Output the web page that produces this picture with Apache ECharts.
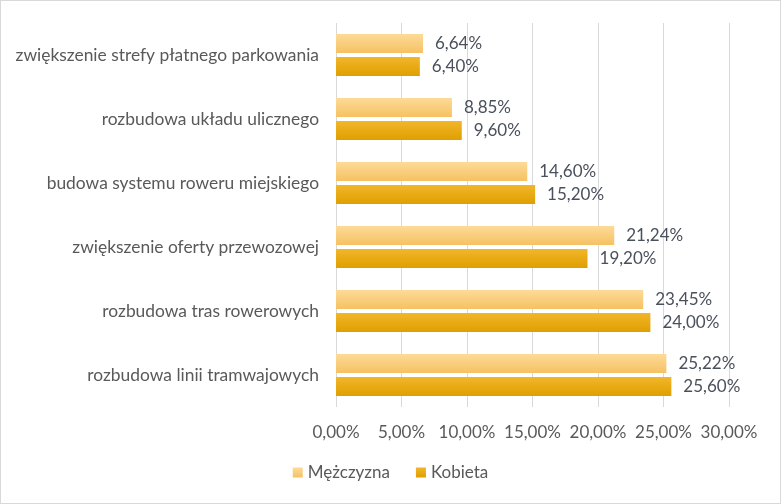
<!DOCTYPE html>
<html>
<head>
<meta charset="utf-8">
<script src="https://cdn.jsdelivr.net/npm/echarts@6/dist/echarts.min.js"></script>
<style>
html,body{margin:0;padding:0;background:#fff;}
#c{width:781px;height:504px;box-sizing:border-box;border:1px solid #d9d9d9;}
</style>
</head>
<body>
<div id="c"></div>
<script>
const categories = [
  "rozbudowa linii tramwajowych",
  "rozbudowa tras rowerowych",
  "zwiększenie oferty przewozowej",
  "budowa systemu roweru miejskiego",
  "rozbudowa układu ulicznego",
  "zwiększenie strefy płatnego parkowania"
];
const men = [25.22, 23.45, 21.24, 14.60, 8.85, 6.64];
const women = [25.60, 24.00, 19.20, 15.20, 9.60, 6.40];
const seriesNames = ["Mężczyzna", "Kobieta"];
const xTicks = {min: 0, max: 30, interval: 5};

const fmt = v => v.toFixed(2).replace('.', ',') + '%';
const font = 'Lato';
const fs = 17;
const chart = echarts.init(document.getElementById('c'), null, {renderer: 'canvas'});
const grad = (a, b) => new echarts.graphic.LinearGradient(0, 0, 0, 1, [{offset: 0, color: a}, {offset: 1, color: b}]);

chart.setOption({
  animation: false,
  grid: {left: 335, right: 51, top: 22, bottom: 96, containLabel: false},
  legend: {
    bottom: 17, left: 'center',
    itemWidth: 10, itemHeight: 10, itemGap: 26,
    icon: 'rect',
    textStyle: {fontFamily: font, fontSize: fs, color: '#595959'},
    data: seriesNames
  },
  xAxis: {
    type: 'value', min: xTicks.min, max: xTicks.max, interval: xTicks.interval,
    axisLine: {show: false}, axisTick: {show: false},
    splitLine: {lineStyle: {color: '#d9d9d9'}},
    axisLabel: {formatter: v => fmt(v), fontFamily: font, fontSize: fs, color: '#595959', margin: 17}
  },
  yAxis: {
    type: 'category', data: categories,
    axisLine: {show: false}, axisTick: {show: false},
    axisLabel: {fontFamily: font, fontSize: 17.4, color: '#595959', margin: 17}
  },
  series: [
    {
      name: seriesNames[0], type: 'bar', data: men,
      barGap: '22%', barCategoryGap: '34%',
      itemStyle: {color: grad('#fddb98', '#f5c164')},
      label: {show: true, position: 'right', distance: 12, formatter: p => fmt(p.value), fontFamily: font, fontSize: fs, color: '#4a505c'}
    },
    {
      name: seriesNames[1], type: 'bar', data: women,
      itemStyle: {color: grad('#f1b62a', '#df9f00')},
      label: {show: true, position: 'right', distance: 12, formatter: p => fmt(p.value), fontFamily: font, fontSize: fs, color: '#4a505c'}
    }
  ]
});
</script>
</body>
</html>
